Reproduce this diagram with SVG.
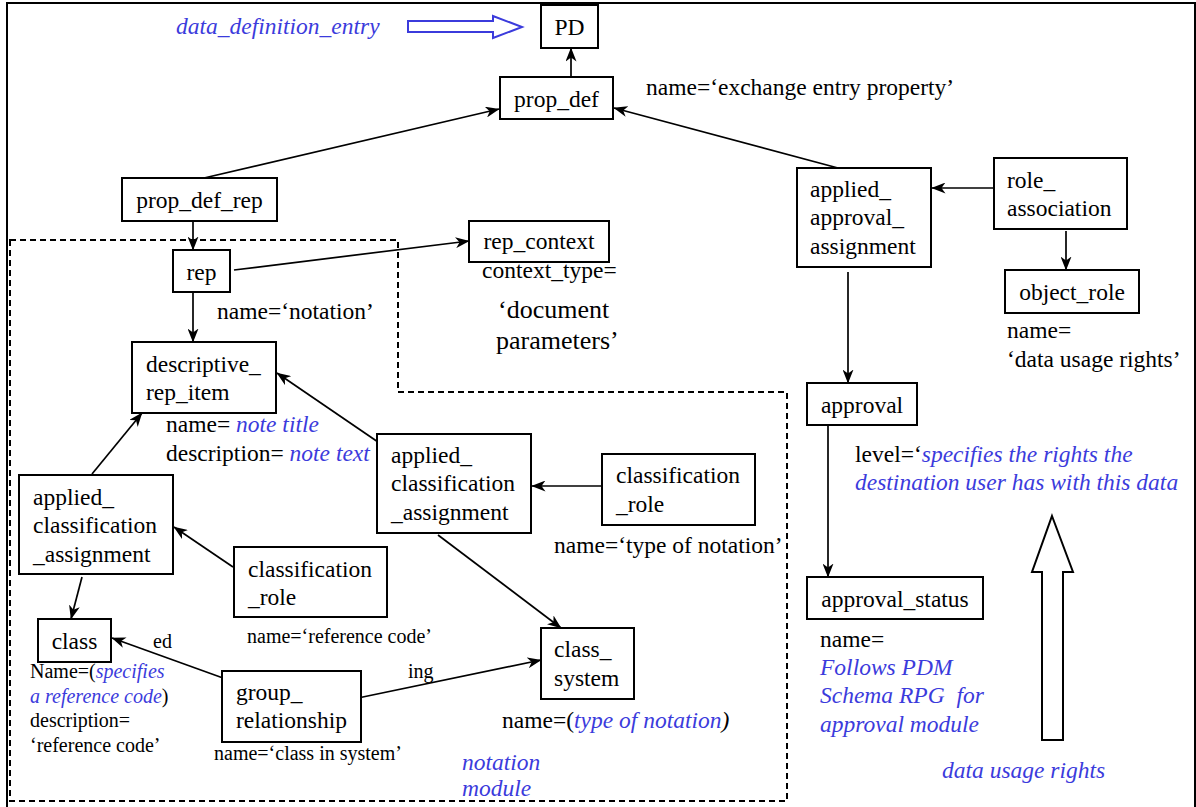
<svg xmlns="http://www.w3.org/2000/svg" width="1196" height="807" viewBox="0 0 1196 807">
  <style>
    text { font-family: "Liberation Serif", "Times New Roman", serif; font-size: 23.5px; fill: #000; }
    .box { fill: #fff; stroke: #000; stroke-width: 2; }
    .c { text-anchor: middle; }
    .sm { font-size: 20px; }
    .lg { font-size: 26px; }
    .b { fill: #3b3bdc; font-style: italic; }
    .it { font-style: italic; }
    .edge { fill: none; stroke: #000; stroke-width: 1.7; marker-end: url(#head); }
    .module { fill: none; stroke: #000; stroke-width: 2; stroke-dasharray: 6 4; }
  </style>
  <defs>
    <marker id="head" markerUnits="userSpaceOnUse" markerWidth="14" markerHeight="11" viewBox="0 0 14 11" refX="13.5" refY="5.5" orient="auto">
      <path d="M0,0 L14,5.5 L0,11 L4,5.5 Z" fill="#000"/>
    </marker>
  </defs>

  <rect width="1196" height="807" fill="#fff"/>
  <!-- outer frame -->
  <rect x="7" y="3" width="1188" height="820" fill="none" stroke="#000" stroke-width="2"/>

  <!-- notation module boundary -->
  <path class="module" d="M10,240 H398 V392 H787 V801 H10 Z"/>

  <!-- data_definition_entry pointer -->
  <g id="entry-pointer">
    <text x="176" y="34" class="b">data_definition_entry</text>
    <polygon points="408,21 493,21 493,16 522,27 493,38 493,32 408,32" fill="#fff" stroke="#3b3bdc" stroke-width="2"/>
  </g>

  <!-- connectors -->
  <g id="connectors">
    <line class="edge" x1="571" y1="77" x2="571" y2="48"/>
    <line class="edge" x1="204" y1="178" x2="499" y2="109"/>
    <line class="edge" x1="838" y1="168" x2="614" y2="108"/>
    <line class="edge" x1="994" y1="188" x2="932" y2="188"/>
    <line class="edge" x1="1066" y1="231" x2="1066" y2="270"/>
    <line class="edge" x1="848" y1="272" x2="848" y2="383"/>
    <line class="edge" x1="828" y1="425" x2="828" y2="577"/>
    <line class="edge" x1="193" y1="221" x2="193" y2="250"/>
    <line class="edge" x1="234" y1="270" x2="469" y2="241"/>
    <line class="edge" x1="193" y1="292" x2="193" y2="342"/>
    <line class="edge" x1="378" y1="442" x2="277" y2="373"/>
    <line class="edge" x1="92" y1="474" x2="142" y2="413"/>
    <line class="edge" x1="602" y1="486" x2="532" y2="486"/>
    <line class="edge" x1="233" y1="567" x2="174" y2="527"/>
    <line class="edge" x1="82" y1="577" x2="71" y2="619"/>
    <line class="edge" x1="438" y1="535" x2="561" y2="628"/>
    <line class="edge" x1="223" y1="678" x2="112" y2="638"/>
    <line class="edge" x1="358" y1="698" x2="541" y2="660"/>
  </g>

  <g id="PD">
    <rect class="box" x="541" y="5" width="57" height="43"/>
    <text x="569.5" y="35" class="c">PD</text>
  </g>
  <g id="prop_def">
    <rect class="box" x="500" y="77" width="113" height="42"/>
    <text x="556.5" y="107" class="c">prop_def</text>
  </g>
  <text x="646" y="95">name=‘exchange entry property’</text>

  <g id="prop_def_rep">
    <rect class="box" x="122" y="178" width="155" height="43"/>
    <text x="199.5" y="208" class="c">prop_def_rep</text>
  </g>

  <g id="applied_approval_assignment">
    <rect class="box" x="797" y="168" width="134" height="99"/>
    <text x="810" y="197">applied_</text>
    <text x="810" y="225">approval_</text>
    <text x="810" y="254">assignment</text>
  </g>
  <g id="role_association">
    <rect class="box" x="994" y="158" width="133" height="71"/>
    <text x="1007" y="188">role_</text>
    <text x="1007" y="216">association</text>
  </g>
  <g id="object_role">
    <rect class="box" x="1005" y="270" width="134" height="43"/>
    <text x="1072" y="300" class="c">object_role</text>
    <text x="1007" y="338">name=</text>
    <text x="1007" y="367">‘data usage rights’</text>
  </g>
  <g id="approval">
    <rect class="box" x="807" y="383" width="110" height="42"/>
    <text x="862" y="413" class="c">approval</text>
    <text x="855" y="462">level=‘<tspan class="b">specifies the rights the</tspan></text>
    <text x="855" y="490" class="b">destination user has with this data</text>
  </g>
  <g id="approval_status">
    <rect class="box" x="807" y="577" width="176" height="42"/>
    <text x="895" y="607" class="c">approval_status</text>
    <text x="820" y="647">name=</text>
    <text x="820" y="675" class="b">Follows PDM</text>
    <text x="820" y="703" class="b" xml:space="preserve">Schema RPG  for</text>
    <text x="820" y="732" class="b">approval module</text>
  </g>

  <!-- data usage rights direction -->
  <g id="usage-arrow">
    <polygon points="1052,516 1073,572 1063,572 1063,740 1042,740 1042,572 1032,572" fill="#fff" stroke="#000" stroke-width="2"/>
    <text x="942" y="778" class="b">data usage rights</text>
  </g>

  <g id="rep">
    <rect class="box" x="173" y="250" width="57" height="42"/>
    <text x="201.5" y="280" class="c">rep</text>
    <text x="217" y="319">name=‘notation’</text>
  </g>
  <g id="rep_context">
    <rect class="box" x="469" y="221" width="140" height="41"/>
    <text x="539" y="249" class="c">rep_context</text>
    <text x="482" y="278">context_type=</text>
    <text x="498" y="318" class="lg">‘document</text>
    <text x="496" y="349" class="lg">parameters’</text>
  </g>
  <g id="descriptive_rep_item">
    <rect class="box" x="132" y="342" width="144" height="71"/>
    <text x="146" y="372">descriptive_</text>
    <text x="146" y="400">rep_item</text>
    <text x="166" y="432">name= <tspan class="b">note title</tspan></text>
    <text x="166" y="461">description= <tspan class="b">note text</tspan></text>
  </g>
  <g id="applied_classification_assignment_notation">
    <rect class="box" x="377" y="434" width="154" height="99"/>
    <text x="391" y="463">applied_</text>
    <text x="391" y="491">classification</text>
    <text x="391" y="520">_assignment</text>
  </g>
  <g id="classification_role_notation">
    <rect class="box" x="602" y="454" width="153" height="71"/>
    <text x="616" y="483">classification</text>
    <text x="616" y="512">_role</text>
    <text x="554" y="553">name=‘type of notation’</text>
  </g>
  <g id="applied_classification_assignment_reference">
    <rect class="box" x="19" y="475" width="154" height="99"/>
    <text x="33" y="505">applied_</text>
    <text x="33" y="533">classification</text>
    <text x="33" y="562">_assignment</text>
  </g>
  <g id="classification_role_reference">
    <rect class="box" x="234" y="547" width="153" height="70"/>
    <text x="248" y="577">classification</text>
    <text x="248" y="605">_role</text>
    <text x="247" y="643" class="sm">name=‘reference code’</text>
  </g>
  <g id="class">
    <rect class="box" x="38" y="619" width="73" height="43"/>
    <text x="74.5" y="649" class="c">class</text>
    <text x="30" y="678" class="sm">Name=(<tspan class="b">specifies</tspan></text>
    <text x="30" y="703" class="sm"><tspan class="b">a reference code</tspan>)</text>
    <text x="30" y="727" class="sm">description=</text>
    <text x="30" y="752" class="sm">‘reference code’</text>
  </g>
  <g id="group_relationship">
    <rect class="box" x="222" y="671" width="139" height="71"/>
    <text x="236" y="700">group_</text>
    <text x="236" y="728">relationship</text>
    <text x="214" y="760" class="sm">name=‘class in system’</text>
    <text x="153" y="648" class="sm">ed</text>
    <text x="408" y="678" class="sm">ing</text>
  </g>
  <g id="class_system">
    <rect class="box" x="541" y="628" width="93" height="71"/>
    <text x="554" y="657">class_</text>
    <text x="554" y="686">system</text>
    <text x="502" y="728">name=(<tspan class="b">type of notation</tspan><tspan class="it">)</tspan></text>
  </g>
  <g id="module-label">
    <text x="462" y="770" class="b">notation</text>
    <text x="462" y="796" class="b">module</text>
  </g>
</svg>
